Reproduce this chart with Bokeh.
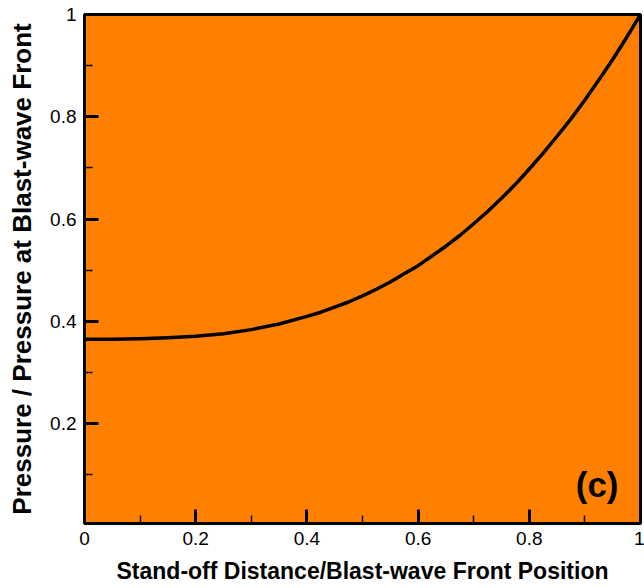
from bokeh.plotting import figure
from bokeh.models import FixedTicker, Range1d, Label
from bokeh.embed import file_html
from bokeh.resources import INLINE

# Data
x_vals = [0.0, 0.05, 0.1, 0.15, 0.2, 0.25, 0.3, 0.35, 0.4, 0.425, 0.45, 0.475,
          0.5, 0.525, 0.55, 0.575, 0.6, 0.625, 0.65, 0.675, 0.7, 0.725, 0.75,
          0.775, 0.8, 0.825, 0.85, 0.875, 0.9, 0.925, 0.95, 0.975, 1.0]
y_vals = [0.365, 0.365, 0.366, 0.368, 0.371, 0.376, 0.384, 0.395, 0.410, 0.418,
          0.428, 0.438, 0.450, 0.463, 0.477, 0.493, 0.509, 0.528, 0.547, 0.568,
          0.591, 0.615, 0.641, 0.668, 0.698, 0.729, 0.762, 0.796, 0.833, 0.872,
          0.912, 0.955, 1.0]
x_ticks = [0, 0.2, 0.4, 0.6, 0.8, 1.0]
x_tick_labels = ["0", "0.2", "0.4", "0.6", "0.8", "1"]
y_ticks = [0.2, 0.4, 0.6, 0.8, 1.0]
y_tick_labels = ["0.2", "0.4", "0.6", "0.8", "1"]
x_minor = [0.1, 0.3, 0.5, 0.7, 0.9]
y_minor = [0.1, 0.3, 0.5, 0.7, 0.9]

FONT = "Liberation Sans"

p = figure(width=644, height=588, output_backend="svg", toolbar_location=None,
           x_range=Range1d(0, 1), y_range=Range1d(0.005, 1),
           min_border_left=84, min_border_right=4, min_border_top=14,
           min_border_bottom=65)

p.background_fill_color = "#FF8000"
p.border_fill_color = "white"
p.outline_line_color = "black"
p.outline_line_width = 3
p.grid.visible = False

p.line(x_vals, y_vals, line_color="black", line_width=3.5, line_join="round")

p.xaxis.ticker = FixedTicker(ticks=x_ticks, minor_ticks=x_minor)
p.yaxis.ticker = FixedTicker(ticks=y_ticks, minor_ticks=y_minor)
p.xaxis.major_label_overrides = {t: l for t, l in zip(x_ticks, x_tick_labels)}
p.yaxis.major_label_overrides = {t: l for t, l in zip(y_ticks, y_tick_labels)}

for ax in (p.xaxis, p.yaxis):
    ax.axis_line_color = "black"
    ax.axis_line_width = 3
    ax.major_tick_in = 14
    ax.major_tick_out = 0
    ax.major_tick_line_width = 3
    ax.major_tick_line_color = "black"
    ax.minor_tick_in = 8
    ax.minor_tick_out = 0
    ax.minor_tick_line_width = 1.5
    ax.minor_tick_line_color = "black"
    ax.major_label_text_font = FONT
    ax.major_label_text_font_size = "19px"
    ax.major_label_text_color = "black"
    ax.major_label_standoff = 8
    ax.axis_label_text_font = FONT
    ax.axis_label_text_font_style = "bold"
    ax.axis_label_text_color = "black"

p.xaxis.axis_label = "Stand-off Distance/Blast-wave Front Position"
p.xaxis.axis_label_text_font_size = "23px"
p.xaxis.axis_label_standoff = 10
p.yaxis.axis_label = "Pressure / Pressure at Blast-wave Front"
p.yaxis.axis_label_text_font_size = "26px"
p.yaxis.axis_label_standoff = 10

p.add_layout(Label(x=0.922, y=0.082, text="(c)", text_font=FONT,
                   text_font_size="35px", text_font_style="bold",
                   text_align="center", text_baseline="middle",
                   text_color="black"))

open("out.html", "w").write(file_html(p, INLINE))
